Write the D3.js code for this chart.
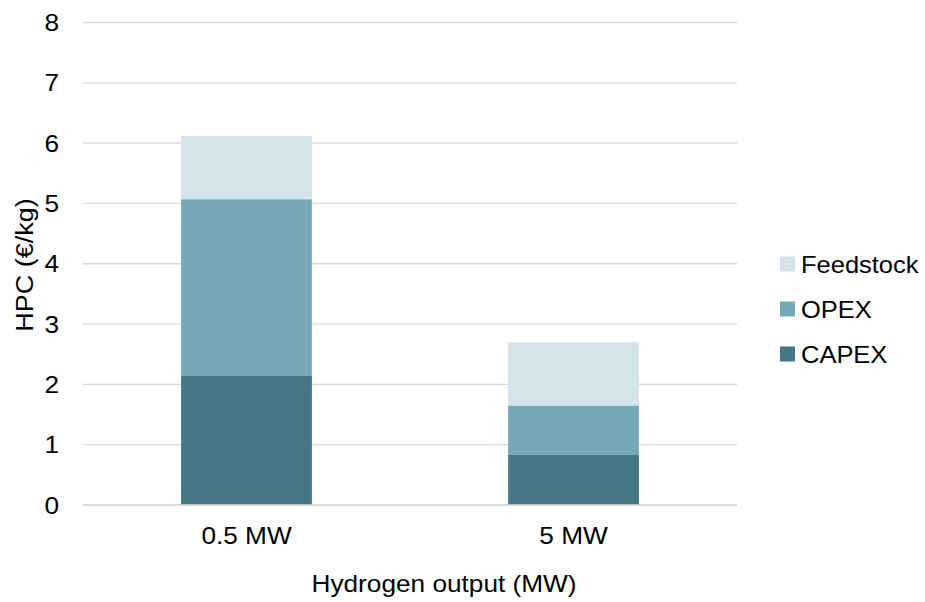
<!DOCTYPE html>
<html>
<head>
<meta charset="utf-8">
<script src="https://cdn.jsdelivr.net/npm/d3@7/dist/d3.min.js"></script>
<style>
html,body{margin:0;padding:0;background:#fff;}
text{font-family:"Liberation Sans",Arial,sans-serif;fill:#000;}
</style>
</head>
<body>
<svg id="chart" width="925" height="602"></svg>
<script>
const categories = ["0.5 MW", "5 MW"];
const seriesNames = ["CAPEX", "OPEX", "Feedstock"];
const capex = [2.15, 0.83];
const opex = [2.92, 0.82];
const feedstock = [1.05, 1.05];
const yTicks = [0, 1, 2, 3, 4, 5, 6, 7, 8];
const colors = ["#457786", "#75a8b8", "#d5e4ea"];
const legendOrder = ["Feedstock", "OPEX", "CAPEX"];

const svg = d3.select("#chart");
const plotLeft = 83, plotRight = 737, plotTop = 22.5, plotBottom = 505;
const fs = 24.5, sx = 1.07;

const x = d3.scaleBand().domain(categories).range([plotLeft, plotRight]).paddingInner(0.6).paddingOuter(0.3);
const y = d3.scaleLinear().domain([0, 8]).range([plotBottom, plotTop]);

// gridlines
svg.append("g").selectAll("line").data(yTicks).join("line")
  .attr("x1", plotLeft).attr("x2", plotRight)
  .attr("y1", d => y(d)).attr("y2", d => y(d))
  .attr("stroke", "#d9d9d9").attr("stroke-width", 1.3);

// y tick labels
svg.append("g").selectAll("text").data(yTicks).join("text")
  .attr("x", 0).attr("y", 0).attr("dy", "0.35em")
  .attr("transform", d => `translate(59,${y(d)}) scale(${sx},1)`)
  .attr("text-anchor", "end").attr("font-size", fs)
  .text(d => d);

// stacked data
const rows = categories.map((c, i) => ({cat: c, CAPEX: capex[i], OPEX: opex[i], Feedstock: feedstock[i]}));
const stack = d3.stack().keys(seriesNames)(rows);

svg.append("g").selectAll("g").data(stack).join("g")
  .attr("fill", (d, i) => colors[i])
  .selectAll("rect").data(d => d).join("rect")
  .attr("x", d => x(d.data.cat))
  .attr("width", x.bandwidth())
  .attr("y", d => y(d[1]))
  .attr("height", d => y(d[0]) - y(d[1]));

// baseline
svg.append("line").attr("x1", plotLeft).attr("x2", plotRight)
  .attr("y1", y(0)).attr("y2", y(0)).attr("stroke", "#d9d9d9").attr("stroke-width", 1.3);

// x tick labels
svg.append("g").selectAll("text").data(categories).join("text")
  .attr("x", 0).attr("y", 0)
  .attr("text-anchor", "middle").attr("font-size", fs)
  .attr("transform", d => `translate(${x(d) + x.bandwidth() / 2},544) scale(${sx},1)`)
  .text(d => d);

// x axis title
svg.append("text").attr("x", 0).attr("y", 0).attr("text-anchor", "middle")
  .attr("font-size", fs)
  .attr("transform", `translate(444,592) scale(${sx},1)`)
  .text("Hydrogen output (MW)");

// y axis title
svg.append("text").attr("transform", `translate(33,265) rotate(-90) scale(1.1,1)`)
  .attr("text-anchor", "middle").attr("font-size", fs)
  .text("HPC (€/kg)");

// legend
const lg = svg.append("g").selectAll("g").data(legendOrder).join("g")
  .attr("transform", (d, i) => `translate(780,${264 + i * 45})`);
lg.append("rect").attr("x", 0).attr("y", -7.5).attr("width", 15).attr("height", 15)
  .attr("fill", d => colors[seriesNames.indexOf(d)]);
lg.append("text").attr("x", 0).attr("y", 0).attr("dy", "0.35em").attr("font-size", fs)
  .attr("transform", `translate(21,0) scale(1.04,1)`)
  .text(d => d);
</script>
</body>
</html>
